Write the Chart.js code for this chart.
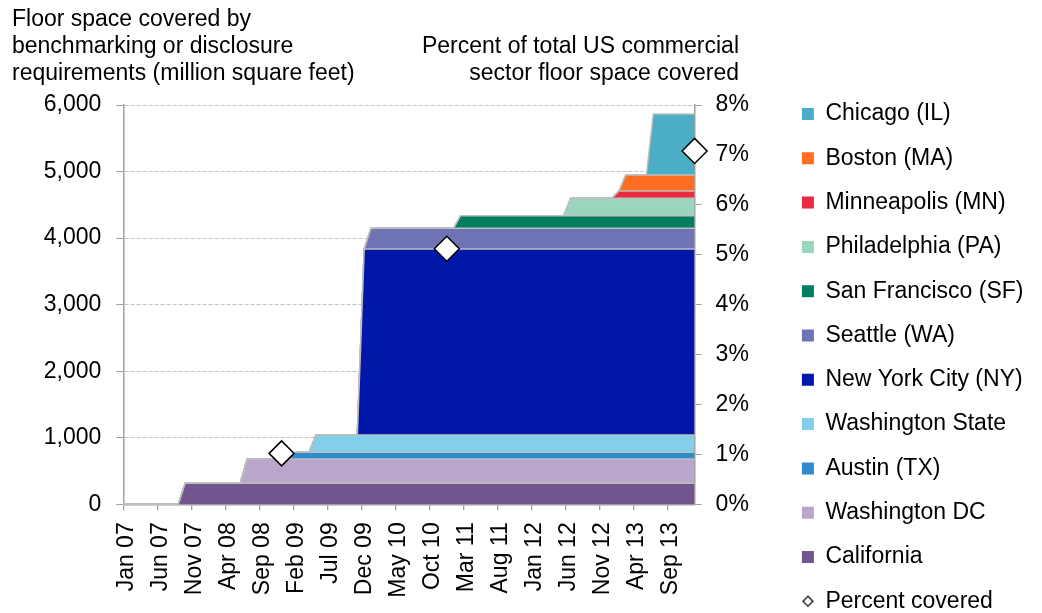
<!DOCTYPE html>
<html><head><meta charset="utf-8">
<script src="https://cdn.jsdelivr.net/npm/chart.js@4.4.1/dist/chart.umd.min.js"></script>
<style>
html,body{margin:0;padding:0;background:#fff;}
#wrap{position:relative;width:1042px;height:613px;overflow:hidden;background:#fff;}
canvas{position:absolute;left:0;top:0;}
.ttl{position:absolute;font-family:"Liberation Sans",Arial,sans-serif;font-size:23px;line-height:26.7px;color:#000;white-space:nowrap;pointer-events:none;}
#tl{left:12px;top:5.3px;}
#tr{right:303px;top:32px;text-align:right;}
</style></head><body>
<div id="wrap">
<canvas id="c" width="1042" height="613"></canvas>
<div class="ttl" id="tl">Floor space covered by<br>benchmarking or disclosure<br>requirements (million square feet)</div>
<div class="ttl" id="tr">Percent of total US commercial<br>sector floor space covered</div>
</div>
<script>
// ---- categories ----
const monthNames = ['Jan','Feb','Mar','Apr','May','Jun','Jul','Aug','Sep','Oct','Nov','Dec'];
const yearSuffixes = ['07','08','09','10','11','12','13'];
const months = yearSuffixes.flatMap(y => monthNames.map(m => m + ' ' + y));
const tickLabels = ['Jan 07','Jun 07','Nov 07','Apr 08','Sep 08','Feb 09','Jul 09','Dec 09','May 10','Oct 10','Mar 11','Aug 11','Jan 12','Jun 12','Nov 12','Apr 13','Sep 13'];

// ---- series (million sq ft), one row per year Jan..Dec ----
const california = [
  0,0,0,0,0,0,0,0,0,316,316,316,
  316,316,316,316,316,316,316,316,316,316,316,316,
  316,316,316,316,316,316,316,316,316,316,316,316,
  316,316,316,316,316,316,316,316,316,316,316,316,
  316,316,316,316,316,316,316,316,316,316,316,316,
  316,316,316,316,316,316,316,316,316,316,316,316,
  316,316,316,316,316,316,316,316,316,316,316,316];
const washingtonDC = [
  0,0,0,0,0,0,0,0,0,0,0,0,
  0,0,0,0,0,0,365,365,365,365,365,365,
  365,365,365,365,365,365,365,365,365,365,365,365,
  365,365,365,365,365,365,365,365,365,365,365,365,
  365,365,365,365,365,365,365,365,365,365,365,365,
  365,365,365,365,365,365,365,365,365,365,365,365,
  365,365,365,365,365,365,365,365,365,365,365,365];
const austin = [
  0,0,0,0,0,0,0,0,0,0,0,0,
  0,0,0,0,0,0,0,0,0,0,0,0,
  0,100,100,100,100,100,100,100,100,100,100,100,
  100,100,100,100,100,100,100,100,100,100,100,100,
  100,100,100,100,100,100,100,100,100,100,100,100,
  100,100,100,100,100,100,100,100,100,100,100,100,
  100,100,100,100,100,100,100,100,100,100,100,100];
const washingtonState = [
  0,0,0,0,0,0,0,0,0,0,0,0,
  0,0,0,0,0,0,0,0,0,0,0,0,
  0,0,0,0,260,260,260,260,260,260,260,260,
  260,260,260,260,260,260,260,260,260,260,260,260,
  260,260,260,260,260,260,260,260,260,260,260,260,
  260,260,260,260,260,260,260,260,260,260,260,260,
  260,260,260,260,260,260,260,260,260,260,260,260];
const newYorkCity = [
  0,0,0,0,0,0,0,0,0,0,0,0,
  0,0,0,0,0,0,0,0,0,0,0,0,
  0,0,0,0,0,0,0,0,0,0,0,2795,
  2795,2795,2795,2795,2795,2795,2795,2795,2795,2795,2795,2795,
  2795,2795,2795,2795,2795,2795,2795,2795,2795,2795,2795,2795,
  2795,2795,2795,2795,2795,2795,2795,2795,2795,2795,2795,2795,
  2795,2795,2795,2795,2795,2795,2795,2795,2795,2795,2795,2795];
const seattle = [
  0,0,0,0,0,0,0,0,0,0,0,0,
  0,0,0,0,0,0,0,0,0,0,0,0,
  0,0,0,0,0,0,0,0,0,0,0,0,
  311,311,311,311,311,311,311,311,311,311,311,311,
  311,311,311,311,311,311,311,311,311,311,311,311,
  311,311,311,311,311,311,311,311,311,311,311,311,
  311,311,311,311,311,311,311,311,311,311,311,311];
const sanFrancisco = [
  0,0,0,0,0,0,0,0,0,0,0,0,
  0,0,0,0,0,0,0,0,0,0,0,0,
  0,0,0,0,0,0,0,0,0,0,0,0,
  0,0,0,0,0,0,0,0,0,0,0,0,
  0,190,190,190,190,190,190,190,190,190,190,190,
  190,190,190,190,190,190,190,190,190,190,190,190,
  190,190,190,190,190,190,190,190,190,190,190,190];
const philadelphia = [
  0,0,0,0,0,0,0,0,0,0,0,0,
  0,0,0,0,0,0,0,0,0,0,0,0,
  0,0,0,0,0,0,0,0,0,0,0,0,
  0,0,0,0,0,0,0,0,0,0,0,0,
  0,0,0,0,0,0,0,0,0,0,0,0,
  0,0,0,0,0,261,261,261,261,261,261,261,
  261,261,261,261,261,261,261,261,261,261,261,261];
const minneapolis = [
  0,0,0,0,0,0,0,0,0,0,0,0,
  0,0,0,0,0,0,0,0,0,0,0,0,
  0,0,0,0,0,0,0,0,0,0,0,0,
  0,0,0,0,0,0,0,0,0,0,0,0,
  0,0,0,0,0,0,0,0,0,0,0,0,
  0,0,0,0,0,0,0,0,0,0,0,0,
  110,110,110,110,110,110,110,110,110,110,110,110];
const boston = [
  0,0,0,0,0,0,0,0,0,0,0,0,
  0,0,0,0,0,0,0,0,0,0,0,0,
  0,0,0,0,0,0,0,0,0,0,0,0,
  0,0,0,0,0,0,0,0,0,0,0,0,
  0,0,0,0,0,0,0,0,0,0,0,0,
  0,0,0,0,0,0,0,0,0,0,0,0,
  0,240,240,240,240,240,240,240,240,240,240,240];
const chicago = [
  0,0,0,0,0,0,0,0,0,0,0,0,
  0,0,0,0,0,0,0,0,0,0,0,0,
  0,0,0,0,0,0,0,0,0,0,0,0,
  0,0,0,0,0,0,0,0,0,0,0,0,
  0,0,0,0,0,0,0,0,0,0,0,0,
  0,0,0,0,0,0,0,0,0,0,0,0,
  0,0,0,0,0,917,917,917,917,917,917,917];

// ---- percent of US commercial floor space covered ----
const percentMonths = ['Dec 08','Dec 10','Dec 13'];
const percentCovered = [1.02, 5.12, 7.08];

const FONT = '"Liberation Sans", Arial, sans-serif';
Chart.defaults.font.family = FONT;
Chart.defaults.font.size = 23;
Chart.defaults.color = '#000';

const AXIS = '#A0A0A0';
const EDGE = '#BEBEBE';

function area(label, data, color, fill) {
  return {
    label, data, backgroundColor: color, borderColor: EDGE, borderWidth: 1.5,
    fill, pointRadius: 0, pointHoverRadius: 0, pointStyle: 'rect', tension: 0, yAxisID: 'y', order: 1
  };
}

// small diamond icon for the legend
const diamondIcon = document.createElement('canvas');
diamondIcon.width = 14; diamondIcon.height = 14;
(function(){
  const g = diamondIcon.getContext('2d');
  g.beginPath(); g.moveTo(7,2); g.lineTo(12,7); g.lineTo(7,12); g.lineTo(2,7); g.closePath();
  g.fillStyle = '#fff'; g.fill(); g.lineWidth = 1.2; g.strokeStyle = '#000'; g.stroke();
})();

const datasets = [
  {
    label: 'Percent covered',
    data: percentMonths.map((m, i) => ({x: m, y: percentCovered[i]})),
    yAxisID: 'y2', showLine: false, fill: false, clip: false,
    pointStyle: 'rectRot', pointRadius: 12.5, pointHoverRadius: 12.5,
    pointBackgroundColor: '#fff', pointBorderColor: '#000', pointBorderWidth: 1.5,
    backgroundColor: '#fff', borderColor: '#000', order: 0
  },
  area('California', california, '#72558F', 'origin'),
  area('Washington DC', washingtonDC, '#BAA5CB', '-1'),
  area('Austin (TX)', austin, '#2E8BCC', '-1'),
  area('Washington State', washingtonState, '#82CFEA', '-1'),
  area('New York City (NY)', newYorkCity, '#0018AA', '-1'),
  area('Seattle (WA)', seattle, '#6E73B3', '-1'),
  area('San Francisco (SF)', sanFrancisco, '#007F5F', '-1'),
  area('Philadelphia (PA)', philadelphia, '#9AD5BE', '-1'),
  area('Minneapolis (MN)', minneapolis, '#EA2A3E', '-1'),
  area('Boston (MA)', boston, '#FF6D22', '-1'),
  area('Chicago (IL)', chicago, '#4BADC6', '-1')
];

new Chart(document.getElementById('c'), {
  type: 'line',
  data: { labels: months, datasets },
  options: {
    responsive: false, animation: false, devicePixelRatio: 1,
    layout: { padding: { top: 81.2, bottom: -23, left: 0, right: 8.5 } },
    plugins: {
      tooltip: { enabled: false },
      legend: {
        position: 'right', align: 'start', reverse: true, maxWidth: 400,
        labels: {
          usePointStyle: true, boxWidth: 12, boxHeight: 12, padding: 21.3,
          color: '#000', font: { size: 23 },
          generateLabels(chart) {
            const items = Chart.defaults.plugins.legend.labels.generateLabels(chart);
            items.forEach(it => {
              const ds = chart.data.datasets[it.datasetIndex];
              if (ds.yAxisID === 'y2') { it.pointStyle = diamondIcon; }
              else { it.pointStyle = 'rect'; it.lineWidth = 0; it.strokeStyle = it.fillStyle; }
            });
            return items;
          }
        }
      }
    },
    scales: {
      xTop: {
        type: 'category', position: 'top',
        grid: { display: false }, border: { display: false }, ticks: { display: false },
        afterFit(s) { s.height = 23.8; }
      },
      x: {
        type: 'category', offset: true,
        grid: {
          display: true, offset: true, drawOnChartArea: false, drawTicks: true, tickLength: 6,
          color: ctx => (ctx.index % 5 === 0 ? AXIS : 'rgba(0,0,0,0)'), lineWidth: 1.3
        },
        border: { display: true, color: AXIS, width: 1.5 },
        ticks: {
          autoSkip: false, minRotation: 90, maxRotation: 90, padding: 12, color: '#000',
          callback(v, i) { const l = months[i]; return tickLabels.includes(l) ? l : ''; }
        },
        afterFit(s) { s.height = 131.7; }
      },
      y: {
        position: 'left', stacked: true, min: 0, max: 6000,
        ticks: { stepSize: 1000, padding: 15, color: '#000', callback: v => v.toLocaleString('en-US') },
        grid: { color: '#C4C4C4', lineWidth: 1, tickLength: 7, tickColor: AXIS, tickBorderDash: [] },
        border: { display: true, color: AXIS, width: 1.5, dash: [4, 2] },
        afterFit(s) { s.width = 123.3; }
      },
      y2: {
        position: 'right', min: 0, max: 8,
        ticks: { stepSize: 1, padding: 14, color: '#000', callback: v => v + '%' },
        grid: { drawOnChartArea: false, tickLength: 7, color: AXIS },
        border: { display: true, color: AXIS, width: 1.5 },
        afterFit(s) { s.width = 86; }
      }
    }
  }
});
</script>
</body></html>
